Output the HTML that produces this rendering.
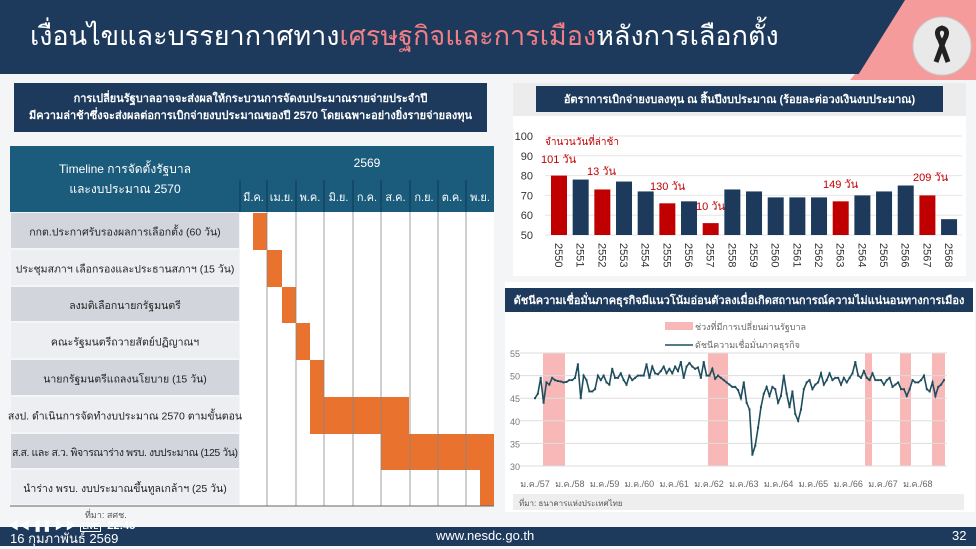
<!DOCTYPE html>
<html><head><meta charset="utf-8"><style>
*{margin:0;padding:0;box-sizing:border-box}
body{width:976px;height:546px;overflow:hidden;background:#f4f5f7;font-family:"Liberation Sans","Noto Sans CJK SC",sans-serif;position:relative}
.abs{position:absolute}
.hdr{left:0;top:0;width:976px;height:74px;background:#1d3a5c}
.title{left:30px;top:14px;font-size:27px;color:#fff;white-space:nowrap;font-family:"Noto Sans CJK SC","WenQuanYi Zen Hei",sans-serif}
.title span{color:#f17f86}
.lbl{display:flex;align-items:center;justify-content:center;font-size:12px;color:#222;text-align:center}
</style></head><body>
<div class="abs hdr"></div>
<svg class="abs" style="left:0;top:0" width="976" height="80">
<polygon points="905,0 976,0 976,80 855,80" fill="#f59b9b"/>
<polygon points="855,74 976,74 976,80 850,80" fill="#f59b9b"/>
<circle cx="942" cy="46" r="29" fill="#e9e9e9" stroke="#ccc"/>
<path d="M936,62 L944,40 Q950,30 942,28 Q934,30 940,40 L948,62" stroke="#222" stroke-width="5" fill="none"/>
</svg>
<div class="abs title">เงื่อนไขและบรรยากาศทาง<span>เศรษฐกิจและการเมือง</span>หลังการเลือกตั้ง</div>

<div class="abs lbl" style="left:14px;top:83px;width:473px;height:49px;background:#1d3a5c;color:#fff;font-size:11px;line-height:17px;font-weight:bold">การเปลี่ยนรัฐบาลอาจจะส่งผลให้กระบวนการจัดงบประมาณรายจ่ายประจำปี<br>มีความล่าช้าซึ่งจะส่งผลต่อการเบิกจ่ายงบประมาณของปี 2570 โดยเฉพาะอย่างยิ่งรายจ่ายลงทุน</div>

<div class="abs lbl" style="left:10px;top:146px;width:230px;height:66px;background:#1b5b7c;color:#fff;line-height:20px">Timeline การจัดตั้งรัฐบาล<br>และงบประมาณ 2570</div>
<div class="abs lbl" style="left:240px;top:146px;width:254px;height:34px;background:#1b5b7c;color:#fff">2569</div>
<svg class="abs" style="left:0;top:0" width="500" height="520">
<g id="g"></g>
</svg>
<div class="abs" style="left:85px;top:508px;font-size:9px;color:#555">ที่มา: สศช.</div>

<div class="abs" style="left:513px;top:83px;width:453px;height:33px;background:#ececec"></div>
<div class="abs lbl" style="left:536px;top:86px;width:407px;height:26px;background:#1d3a5c;color:#fff;font-size:11px;font-weight:bold">อัตราการเบิกจ่ายงบลงทุน ณ สิ้นปีงบประมาณ (ร้อยละต่อวงเงินงบประมาณ)</div>
<div class="abs" style="left:513px;top:116px;width:453px;height:160px;background:#fff"></div>

<div class="abs" style="left:505px;top:282px;width:470px;height:230px;background:#fff"></div>
<div class="abs lbl" style="left:505px;top:288px;width:468px;height:24px;background:#1d3a5c;color:#fff;font-size:11px;font-weight:bold">ดัชนีความเชื่อมั่นภาคธุรกิจมีแนวโน้มอ่อนตัวลงเมื่อเกิดสถานการณ์ความไม่แน่นอนทางการเมือง</div>
<div class="abs" style="left:513px;top:494px;width:451px;height:16px;background:#eee;font-size:8px;color:#555;padding:3px 0 0 6px">ที่มา: ธนาคารแห่งประเทศไทย</div>
<svg class="abs" style="left:0;top:0;z-index:5" width="976" height="546" id="ch"></svg>

<div class="abs" style="left:0;top:527px;width:976px;height:19px;background:#1d3a5c"></div>
<div class="abs" style="left:10px;top:528px;color:#fff;font-size:13px">16 กุมภาพันธ์ 2569</div>
<div class="abs" style="left:436px;top:528px;color:#fff;font-size:13px">www.nesdc.go.th</div>
<div class="abs" style="left:952px;top:528px;color:#fff;font-size:13px">32</div>
<div class="abs" style="left:8px;top:517px;color:#fff;font-size:11px;font-weight:bold">◀◀ ❚❚ ▶▶ <span style="border:1px solid #fff;font-size:7px;padding:0 2px">LIVE</span> &nbsp;22:45</div>

<script>
const NS="http://www.w3.org/2000/svg";
function el(p,t,a,txt){const e=document.createElementNS(NS,t);for(const k in a)e.setAttribute(k,a[k]);if(txt!==undefined)e.textContent=txt;p.appendChild(e);return e;}
const g=document.getElementById('g');
const cols=[240,267,296,324,353,381,410,438,466,494];
const months=["มี.ค.","เม.ย.","พ.ค.","มิ.ย.","ก.ค.","ส.ค.","ก.ย.","ต.ค.","พ.ย."];
el(g,'rect',{x:240,y:180,width:254,height:32,fill:'#1b5b7c'});
for(let i=0;i<9;i++){el(g,'line',{x1:cols[i],y1:180,x2:cols[i],y2:212,stroke:'#0e3a52'});
el(g,'text',{x:(cols[i]+cols[i+1])/2,y:201,fill:'#fff','font-size':11,'text-anchor':'middle'},months[i]);}
el(g,'rect',{x:240,y:212,width:254,height:294,fill:'#fff'});
const rt=[213,250,287,323,360,397,434,470,506];
const labels=["กกต.ประกาศรับรองผลการเลือกตั้ง (60 วัน)","ประชุมสภาฯ เลือกรองและประธานสภาฯ (15 วัน)","ลงมติเลือกนายกรัฐมนตรี","คณะรัฐมนตรีถวายสัตย์ปฏิญาณฯ","นายกรัฐมนตรีแถลงนโยบาย (15 วัน)","สงป. ดำเนินการจัดทำงบประมาณ 2570 ตามขั้นตอน","ส.ส. และ ส.ว. พิจารณาร่าง พรบ. งบประมาณ (125 วัน)","นำร่าง พรบ. งบประมาณขึ้นทูลเกล้าฯ  (25 วัน)"];
const bars=[[253,267],[267,282],[282,296],[296,310],[310,324],[310,409],[381,494],[480,494]];
for(let i=0;i<8;i++){
 el(g,'rect',{x:11,y:rt[i],width:228,height:rt[i+1]-rt[i]-2,fill:i%2?'#eceef1':'#d2d6dc'});
 el(g,'text',{x:125,y:(rt[i]+rt[i+1])/2+4,fill:'#222','font-size':10.5,'text-anchor':'middle',textLength:i==6?226:undefined},labels[i]);
 el(g,'rect',{x:bars[i][0],y:rt[i],width:bars[i][1]-bars[i][0],height:rt[i+1]-rt[i],fill:'#e8722e'});
}
for(let i=1;i<9;i++)el(g,'line',{x1:cols[i],y1:212,x2:cols[i],y2:506,stroke:'#888','stroke-width':0.8});
el(g,'line',{x1:10,y1:506,x2:494,y2:506,stroke:'#666'});
const c=document.getElementById('ch');
for(let v=50;v<=100;v+=10){const y=235-(v-50)*1.98;
 el(c,'line',{x1:545,y1:y,x2:962,y2:y,stroke:'#e6e6e6'});
 el(c,'text',{x:533,y:y+4,'font-size':11,fill:'#333','text-anchor':'end'},v);}
const vals=[80,78,73,77,72,66,67,56,73,72,69,69,69,67,70,72,75,70,58];
const red=[0,2,5,7,13,17];
vals.forEach((v,i)=>{const x=551+i*21.67;
 el(c,'rect',{x:x,y:235-(v-50)*1.98,width:16,height:(v-50)*1.98,fill:red.includes(i)?'#c00000':'#1d3a5c'});
 el(c,'text',{x:0,y:0,'font-size':11,fill:'#333',transform:`translate(${x+4},243) rotate(90)`},2550+i);});
el(c,'text',{x:545,y:145,'font-size':10,fill:'#c00000'},'จำนวนวันที่ล่าช้า');
[[541,163,'101 วัน'],[587,175,'13 วัน'],[650,190,'130 วัน'],[696,210,'10 วัน'],[823,188,'149 วัน'],[913,181,'209 วัน']].forEach(a=>el(c,'text',{x:a[0],y:a[1],'font-size':11,fill:'#c00000'},a[2]));
[[543,565],[708,728],[865,872],[900,911],[932,945]].forEach(s=>el(c,'rect',{x:s[0],y:353,width:s[1]-s[0],height:113,fill:'#f8b8b8'}));
for(let v=30;v<=55;v+=5){const y=353+(55-v)*4.52;
 el(c,'line',{x1:520,y1:y,x2:947,y2:y,stroke:'#ddd'});
 el(c,'text',{x:520,y:y+4,'font-size':9,fill:'#777','text-anchor':'end'},v);}
for(let i=0;i<12;i++)el(c,'text',{x:535+i*34.8,y:487,'font-size':9,fill:'#666','text-anchor':'middle'},'ม.ค./'+(57+i));
el(c,'rect',{x:665,y:322,width:28,height:8,fill:'#f8b8b8'});
el(c,'text',{x:695,y:330,'font-size':9,fill:'#666'},'ช่วงที่มีการเปลี่ยนผ่านรัฐบาล');
el(c,'line',{x1:665,y1:345,x2:693,y2:345,stroke:'#1f4e5f','stroke-width':1.5});
el(c,'text',{x:695,y:348,'font-size':9,fill:'#666'},'ดัชนีความเชื่อมั่นภาคธุรกิจ');
const d=[45,46,49.5,44,48.5,48,49.5,49,48.8,48.7,48.5,48.6,49,49,49.5,52.5,45,50,49,46.5,46.5,47,50,49,50,48.5,48,51.5,49.5,49.5,50.5,49,48,50,49,49.5,50,50,50,52.5,49.5,52,50.5,50.3,51,52,50.5,51.5,50.5,52,51,53,49.5,52,52.8,52,51.5,51.8,49.5,53,50,50,51.5,49.3,50,49.5,49,48.5,48,47.5,47.5,46.8,45,48.5,44,42.5,32.5,34.5,38.5,43,46,47.5,45.5,47.5,47,44,45.5,50,46,43,46.5,41.5,40,42.5,47,48.5,49,47,48,48.5,50.5,48,49,50.5,49,49.5,49.5,48,49.5,48.5,49.5,50.5,53,50,49.5,51,49.5,49,50.5,49,49,49,48,49,49.5,47.5,48,48.5,47,47,45.5,47,49,48.5,48.5,49,50,47,46.5,48.5,45.5,47.5,48,49];
const pts=d.map((v,i)=>[535+i*2.86,353+(55-v)*4.52]);
el(c,'polyline',{points:pts.map(p=>p.join(',')).join(' '),fill:'none',stroke:'#1f4e5f','stroke-width':1.6});
pts.forEach(p=>el(c,'rect',{x:p[0]-1,y:p[1]-1,width:2,height:2,fill:'#1f4e5f'}));
</script>
</body></html>
